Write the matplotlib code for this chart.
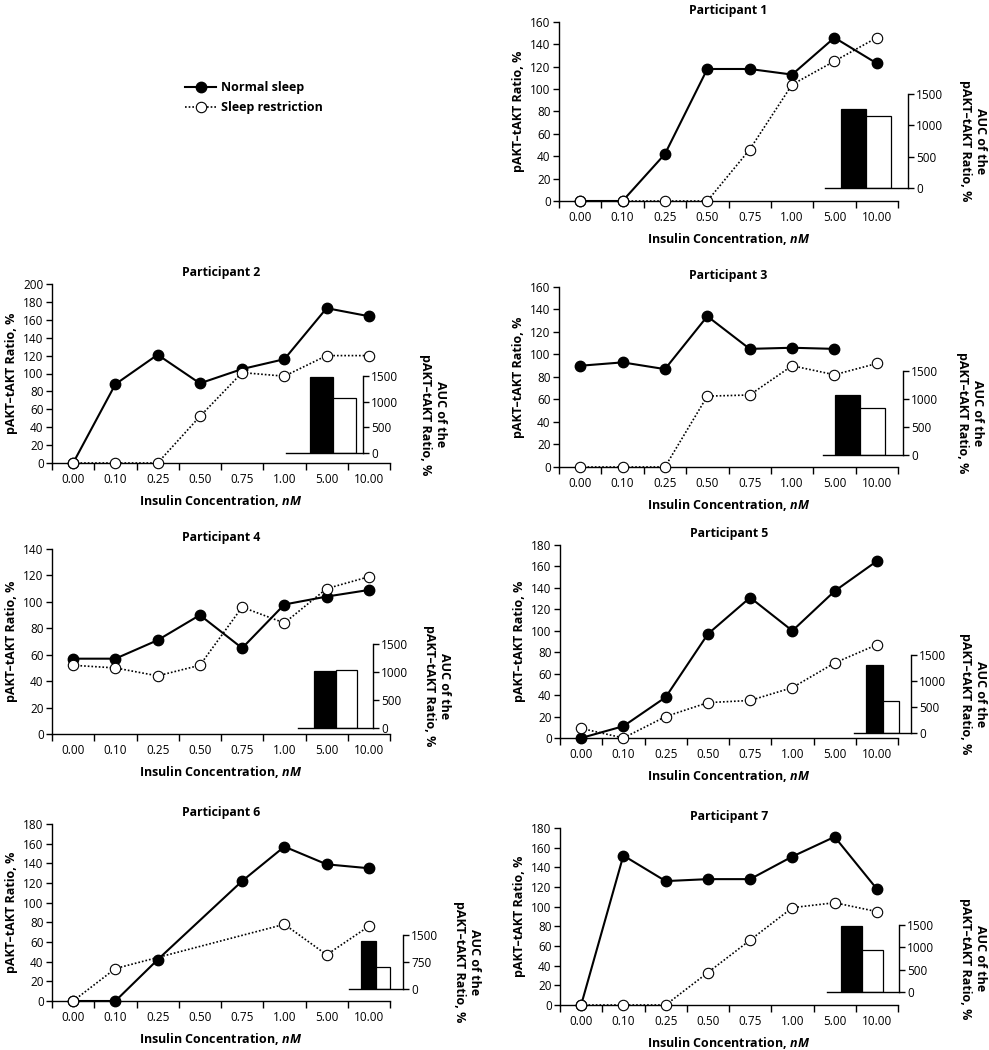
import matplotlib
matplotlib.use('Agg')
from matplotlib import pyplot as plt
import numpy as np

plt.rcParams['font.family'] = 'Open Sans'
plt.rcParams['mathtext.fontset'] = 'custom'
plt.rcParams['mathtext.it'] = 'Open Sans:bold:italic'
plt.rcParams['mathtext.rm'] = 'Open Sans:bold'

# insulin doses (categorical x axis)
doses = ['0.00', '0.10', '0.25', '0.50', '0.75', '1.00', '5.00', '10.00']
nan = np.nan

# pAKT-tAKT ratio, % (normal sleep / sleep restriction) and AUC per participant
p1_normal = [0, 0, 42, 118, 118, 113, 146, 123]
p1_restr = [0, 0, 0, 0, 46, 104, 125, 146]
p1_auc = [1260, 1150]

p2_normal = [0, 88, 121, 89, 105, 116, 173, 164]
p2_restr = [0, 0, 0, 52, 101, 97, 120, 120]
p2_auc = [1490, 1080]

p3_normal = [90, 93, 87, 134, 105, 106, 105, nan]
p3_restr = [0, 0, 0, 63, 64, 90, 82, 92]
p3_auc = [1065, 845]

p4_normal = [57, 57, 71, 90, 65, 98, 104, 109]
p4_restr = [52, 50, 44, 52, 96, 84, 110, 119]
p4_auc = [1020, 1030]

p5_normal = [0, 11, 38, 97, 131, 100, 137, 165]
p5_restr = [9, 0, 20, 33, 35, 47, 70, 87]
p5_auc = [1300, 620]

p6_normal = [0, 0, 42, nan, 122, 157, 139, 135]
p6_restr = [0, 33, nan, nan, nan, 78, 47, 76]
p6_auc = [1345, 600]

p7_normal = [0, 152, 126, 128, 128, 151, 171, 118]
p7_restr = [0, 0, 0, 33, 66, 99, 104, 95]
p7_auc = [1485, 935]

W, H = 989, 1050
fig = plt.figure(figsize=(W / 100, H / 100), dpi=100)


def px_rect(x0, x1, ytop, ybot):
    return [x0 / W, 1 - ybot / H, (x1 - x0) / W, (ybot - ytop) / H]


def draw_panel(num, main_px, inset_px, normal, restr, auc, ymax, auc_ticks, label_x):
    ax = fig.add_axes(px_rect(*main_px))
    x = np.arange(len(doses))
    n = np.array(normal, dtype=float)
    r = np.array(restr, dtype=float)
    mn = ~np.isnan(n)
    mr = ~np.isnan(r)
    ln1, = ax.plot(x[mn], n[mn], color='black', lw=1.5, marker='o', ms=7.5,
                   mfc='black', mec='black', clip_on=False, zorder=3, label='Normal sleep')
    ln2, = ax.plot(x[mr], r[mr], color='black', lw=1.2, ls=(0, (1, 1.2)), marker='o', ms=7.5,
                   mfc='white', mec='black', mew=0.8, clip_on=False, zorder=4,
                   label='Sleep restriction')
    ax.set_xlim(-0.5, 7.5)
    ax.set_ylim(0, ymax)
    ax.set_yticks(np.arange(0, ymax + 1, 20))
    ax.set_xticks(x)
    ax.set_xticklabels(doses)
    ax.set_xticks(np.arange(-0.5, 8, 1), minor=True)
    ax.tick_params(axis='x', which='major', length=0, pad=7, labelsize=8.5)
    ax.tick_params(axis='x', which='minor', length=5, width=1, direction='out')
    ax.tick_params(axis='y', length=4, width=1, labelsize=8.5, pad=2)
    for s in ['top', 'right']:
        ax.spines[s].set_visible(False)
    for s in ['left', 'bottom']:
        ax.spines[s].set_linewidth(1)
    ax.set_title(f'Participant {num}', fontsize=8.8, fontweight='bold', pad=6)
    ax.set_ylabel('pAKT–tAKT Ratio, %', fontsize=9, fontweight='bold', labelpad=4)
    ax.set_xlabel(r'Insulin Concentration, $nM$', fontsize=9, fontweight='bold', labelpad=5)

    # AUC inset
    sl, bl, wr, sr, y0, y1 = inset_px
    ins = fig.add_axes(px_rect(sl, sr, y1, y0))
    ins.set_facecolor('none')
    ins.bar([0, 1], auc, width=1, color=['black', 'white'], edgecolor='black', linewidth=0.9)
    u = (wr - bl) / 2
    ins.set_xlim(-0.5 - (bl - sl) / u, 1.5 + (sr - wr) / u)
    ins.set_ylim(0, 1500)
    ins.set_yticks(auc_ticks)
    ins.yaxis.tick_right()
    ins.set_xticks([])
    ins.tick_params(axis='y', length=4, width=1, labelsize=8.5, pad=2)
    for s in ['top', 'left']:
        ins.spines[s].set_visible(False)
    for s in ['right', 'bottom']:
        ins.spines[s].set_linewidth(1)
    fig.text(label_x / W, 1 - (y0 + y1) / 2 / H, 'AUC of the\npAKT–tAKT Ratio, %',
             rotation=270, ha='center', va='center', multialignment='center',
             fontsize=9, fontweight='bold')
    return ln1, ln2


handles = draw_panel(1, (559, 898, 22, 201), (825, 841, 891, 908, 188, 94),
                     p1_normal, p1_restr, p1_auc, 160, [0, 500, 1000, 1500], 973)
draw_panel(2, (52, 390, 284, 463), (286, 310, 356, 363, 453, 376),
           p2_normal, p2_restr, p2_auc, 200, [0, 500, 1000, 1500], 433)
draw_panel(3, (559, 898, 287, 467), (823, 835, 885, 903, 455, 371),
           p3_normal, p3_restr, p3_auc, 160, [0, 500, 1000, 1500], 970)
draw_panel(4, (52, 390, 549, 734), (298, 314, 357, 373, 728, 644),
           p4_normal, p4_restr, p4_auc, 140, [0, 500, 1000, 1500], 437)
draw_panel(5, (560, 898, 545, 738), (854, 866, 899, 911, 733, 655),
           p5_normal, p5_restr, p5_auc, 180, [0, 500, 1000, 1500], 973)
draw_panel(6, (52, 390, 824, 1001), (349, 361, 390, 403, 989, 935),
           p6_normal, p6_restr, p6_auc, 180, [0, 750, 1500], 467)
draw_panel(7, (560, 898, 828, 1005), (827, 841, 883, 899, 992, 925),
           p7_normal, p7_restr, p7_auc, 180, [0, 500, 1000, 1500], 973)

fig.legend(handles, ['Normal sleep', 'Sleep restriction'], loc='upper left',
           bbox_to_anchor=(180 / W, 1 - 76 / H), frameon=False, handlelength=2.5,
           handletextpad=0.4, labelspacing=0.6, borderaxespad=0,
           prop={'weight': 'bold', 'size': 9})

fig.savefig('out.png', dpi=100)
plt.close(fig)
